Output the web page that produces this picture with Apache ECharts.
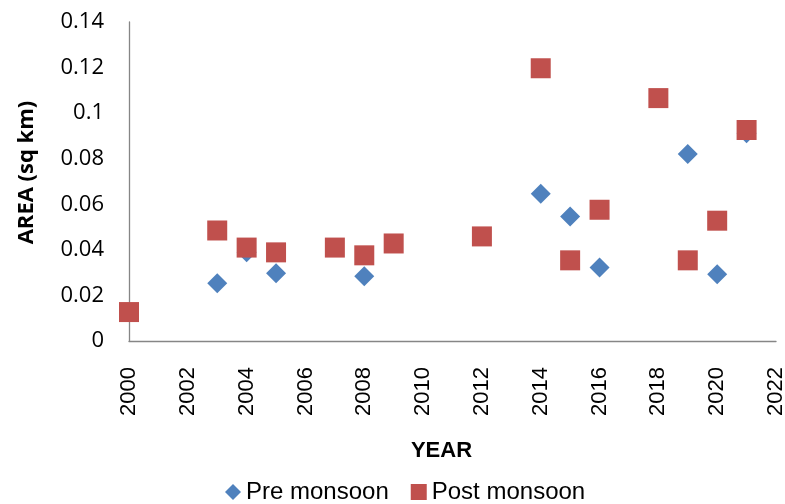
<!DOCTYPE html>
<html><head><meta charset="utf-8">
<script src="https://cdn.jsdelivr.net/npm/echarts@6/dist/echarts.min.js"></script>
<style>html,body{margin:0;padding:0;background:#fff}#c{width:785px;height:504px}</style>
</head><body><div id="c"></div>
<script>
const preYears = [2003, 2004, 2005, 2008, 2014, 2015, 2016, 2019, 2020, 2021];
const preValues = [0.0253, 0.0390, 0.0297, 0.0284, 0.0646, 0.0546, 0.0323, 0.0821, 0.0293, 0.0912];
const postYears = [2000, 2003, 2004, 2005, 2007, 2008, 2009, 2012, 2014, 2015, 2016, 2018, 2019, 2020, 2021];
const postValues = [0.0127, 0.0485, 0.0410, 0.0389, 0.0410, 0.0376, 0.0428, 0.0459, 0.1197, 0.0354, 0.0576, 0.1066, 0.0354, 0.0528, 0.0926];
const seriesNames = ['Pre monsoon', 'Post monsoon'];

const chart = echarts.init(document.getElementById('c'));
const axisColor = '#868686';
chart.setOption({
  animation: false,
  grid: {left: 129, right: 9, top: 22, bottom: 163, containLabel: false, outerBoundsMode: 'none'},
  legend: {
    left: 220, top: 475, itemGap: 22, itemWidth: 16, itemHeight: 16,
    textStyle: {fontFamily: 'Liberation Sans', fontSize: 24, color: '#000'},
    data: [{name: seriesNames[0], icon: 'diamond'}, {name: seriesNames[1], icon: 'rect'}]
  },
  xAxis: {
    type: 'value', min: 2000, max: 2022, interval: 2,
    name: 'YEAR', nameLocation: 'middle', nameGap: 99,
    nameTextStyle: {fontFamily: 'Liberation Sans', fontWeight: 'bold', fontSize: 22, color: '#000', padding: [0, 22, 0, 0]},
    axisLine: {lineStyle: {color: axisColor, width: 1.3}},
    axisTick: {show: false},
    splitLine: {show: false},
    axisLabel: {rotate: 90, margin: 26, fontFamily: 'Liberation Sans', fontSize: 22, color: '#000',
      formatter: v => String(v)}
  },
  yAxis: {
    type: 'value', min: 0, max: 0.14, interval: 0.02,
    name: 'AREA (sq km)', nameLocation: 'middle', nameGap: 91,
    nameTextStyle: {fontFamily: 'Open Sans', fontWeight: 'bold', fontSize: 22, color: '#000', padding: [0, 0, 0, 18]},
    axisLine: {show: true, lineStyle: {color: axisColor, width: 1.3}},
    axisTick: {show: false},
    splitLine: {show: false},
    axisLabel: {margin: 25, fontFamily: 'Open Sans', fontSize: 22, color: '#000'}
  },
  series: [
    {name: seriesNames[0], type: 'scatter', symbol: 'diamond', symbolSize: 20,
     itemStyle: {color: '#4F81BD', opacity: 1},
     data: preYears.map((y, i) => [y, preValues[i]])},
    {name: seriesNames[1], type: 'scatter', symbol: 'rect', symbolSize: 20,
     itemStyle: {color: '#C0504D', opacity: 1},
     data: postYears.map((y, i) => [y, postValues[i]])}
  ]
});
</script></body></html>
